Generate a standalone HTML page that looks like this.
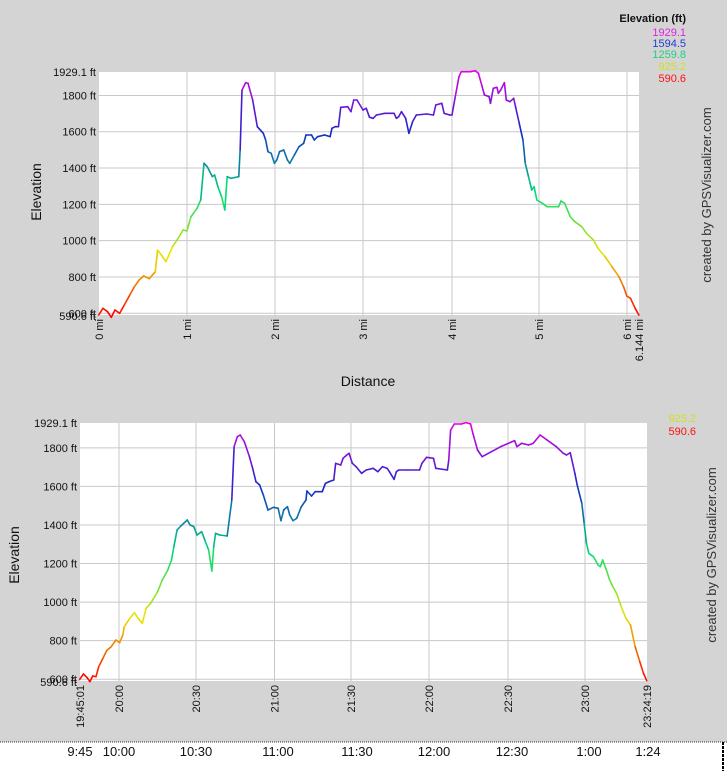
<!DOCTYPE html>
<html><head><meta charset="utf-8"><style>
body{margin:0;background:#d4d4d4;width:727px;height:771px;overflow:hidden;font-family:"Liberation Sans",Arial,sans-serif}
</style></head><body>
<svg id="s" width="727" height="771" xmlns="http://www.w3.org/2000/svg" style="position:absolute;left:0;top:0" font-family="Liberation Sans, Arial, sans-serif">
<rect x="0" y="0" width="727" height="771" fill="#d4d4d4"/>
<rect x="0" y="742" width="727" height="29" fill="#fff"/>
<line x1="0" y1="742" x2="727" y2="742" stroke="#333" stroke-dasharray="1,1"/>
<line x1="723" y1="742" x2="723" y2="771" stroke="#000" stroke-width="2" stroke-dasharray="3,1"/>
<g id="g"></g>
</svg>
<script>
var g=document.getElementById('g'),NS='http://www.w3.org/2000/svg';
function el(t,a,txt){var e=document.createElementNS(NS,t);for(var k in a)e.setAttribute(k,a[k]);if(txt!=null)e.textContent=txt;g.appendChild(e);return e;}
function col(f){ // f 0..1
 var stops=[[255,0,0],[230,230,0],[0,220,120],[20,40,200],[230,0,230]];
 var p=f*4,i=Math.min(3,Math.floor(p)),t=p-i,a=stops[i],b=stops[i+1];
 return 'rgb('+Math.round(a[0]+(b[0]-a[0])*t)+','+Math.round(a[1]+(b[1]-a[1])*t)+','+Math.round(a[2]+(b[2]-a[2])*t)+')';}
function chart(L,R,T,B,xt,pts,yoff){
 el('rect',{x:L,y:T,width:R-L,height:B-T,fill:'#fff'});
 var sc=(B-T)/1338.5;
 [600,800,1000,1200,1400,1600,1800].forEach(function(v){var y=B-(v-590.6)*sc;
  el('line',{x1:L,y1:y,x2:R,y2:y,stroke:'#c8c8c8'});
  el('text',{x:L-3,y:y+4,'font-size':11,'text-anchor':'end',fill:'#111'},v+' ft');});
 el('text',{x:L-3,y:T+4,'font-size':11,'text-anchor':'end',fill:'#111'},'1929.1 ft');
 el('text',{x:L-3,y:B+5,'font-size':11,'text-anchor':'end',fill:'#111'},'590.6 ft');
 xt.forEach(function(a){ if(a[2])el('line',{x1:a[0],y1:T,x2:a[0],y2:B,stroke:'#c8c8c8'});
  el('text',{transform:'translate('+(a[0]+4)+','+(B+4)+') rotate(-90)','font-size':11,'text-anchor':'end',fill:'#111'},a[1]);});
 for(var i=0;i<pts.length-1;i++){
  var x1=pts[i][0]/2.157,y1=yoff+pts[i][1]/3,x2=pts[i+1][0]/2.157,y2=yoff+pts[i+1][1]/3;
  var f=1-((y1+y2)/2-T)/(B-T);f=Math.max(0,Math.min(1,f));
  el('line',{x1:x1,y1:y1,x2:x2,y2:y2,stroke:col(f),'stroke-width':1.6,'stroke-linecap':'round'});}
}
var p1=[[213,945],[222,925],[232,935],[240,952],[248,930],[258,940],[268,915],[280,885],[290,860],[300,840],[310,828],[322,836],[335,815],[340,750],[348,765],[358,785],[372,740],[382,720],[395,690],[403,693],[412,650],[425,625],[433,600],[440,490],[447,500],[458,530],[463,525],[470,560],[478,590],[485,630],[490,530],[498,535],[515,530],[518,450],[522,270],[530,248],[535,250],[545,300],[555,380],[568,400],[573,420],[578,455],[585,460],[592,490],[597,480],[603,455],[612,450],[620,480],[625,490],[635,465],[645,440],[655,430],[660,405],[672,405],[678,420],[685,410],[700,405],[712,410],[716,385],[723,380],[730,380],[735,322],[750,320],[757,335],[763,300],[770,300],[783,330],[790,325],[797,352],[805,355],[812,345],[830,340],[850,340],[855,355],[860,350],[866,335],[875,355],[882,400],[890,365],[898,345],[920,342],[935,345],[940,315],[953,310],[958,340],[970,345],[975,345],[982,290],[990,230],[995,215],[1015,215],[1025,212],[1032,220],[1040,260],[1045,285],[1055,290],[1058,310],[1064,265],[1072,262],[1075,280],[1080,270],[1088,248],[1092,300],[1100,305],[1108,295],[1112,320],[1120,370],[1128,420],[1133,490],[1140,530],[1147,570],[1152,560],[1158,600],[1170,610],[1180,620],[1205,620],[1210,603],[1218,610],[1230,650],[1240,665],[1255,680],[1265,700],[1280,720],[1290,745],[1305,770],[1320,800],[1335,830],[1345,860],[1352,888],[1360,895],[1370,925],[1378,945]];
var p2=[[172,838],[180,822],[188,833],[194,845],[200,828],[207,830],[213,800],[222,775],[230,752],[240,740],[250,720],[258,728],[265,705],[268,680],[280,655],[290,638],[298,655],[307,670],[315,625],[325,610],[340,575],[350,540],[362,510],[370,480],[375,440],[382,390],[390,378],[404,360],[410,375],[418,380],[425,405],[435,395],[443,425],[450,450],[457,513],[461,440],[465,400],[474,405],[490,408],[500,300],[505,140],[512,110],[518,105],[527,125],[538,170],[545,205],[552,245],[560,255],[568,285],[578,330],[590,322],[600,325],[606,362],[612,330],[620,320],[625,345],[632,362],[640,355],[650,320],[660,300],[662,273],[672,288],[680,275],[695,275],[702,250],[710,245],[720,240],[724,190],[735,195],[740,175],[748,165],[753,160],[760,190],[768,200],[780,220],[790,210],[805,205],[815,215],[825,200],[835,205],[840,215],[850,238],[855,215],[860,210],[880,210],[905,210],[910,190],[920,172],[935,175],[940,205],[965,210],[968,180],[972,90],[980,72],[995,72],[1005,68],[1015,72],[1020,100],[1030,150],[1040,170],[1060,155],[1080,140],[1110,122],[1115,140],[1125,130],[1140,135],[1150,130],[1165,105],[1180,120],[1200,140],[1215,160],[1222,165],[1230,158],[1240,220],[1245,255],[1255,310],[1260,370],[1265,430],[1270,460],[1280,470],[1290,495],[1295,500],[1300,480],[1308,510],[1315,540],[1322,560],[1330,580],[1340,620],[1350,655],[1360,675],[1370,740],[1380,785],[1388,820],[1395,842]];
chart(99,639,72,315,[[99,'0 mi',0],[187,'1 mi',1],[275,'2 mi',1],[363,'3 mi',1],[452,'4 mi',1],[539,'5 mi',1],[627,'6 mi',1],[639,'6.144 mi',0]],p1,0);
chart(80,647,423,681,[[80,'19:45:01',0],[119,'20:00',1],[196,'20:30',1],[274.5,'21:00',1],[351,'21:30',1],[429,'22:00',1],[508,'22:30',1],[585,'23:00',1],[647,'23:24:19',0]],p2,400);
el('text',{x:686,y:22,'font-size':11,'font-weight':'bold','text-anchor':'end',fill:'#111'},'Elevation (ft)');
[['1929.1','#e020e0',36],['1594.5','#2040d0',47],['1259.8','#20d080',58],['925.2','#d0e020',70],['590.6','#ff1010',82]].forEach(function(a){el('text',{x:686,y:a[2],'font-size':11,'text-anchor':'end',fill:a[1]},a[0]);});
el('text',{x:696,y:422,'font-size':11,'text-anchor':'end',fill:'#d0e020'},'925.2');
el('text',{x:696,y:435,'font-size':11,'text-anchor':'end',fill:'#ff1010'},'590.6');
el('text',{transform:'translate(711,195) rotate(-90)','font-size':13,'text-anchor':'middle',fill:'#333'},'created by GPSVisualizer.com');
el('text',{transform:'translate(716,555) rotate(-90)','font-size':13,'text-anchor':'middle',fill:'#333'},'created by GPSVisualizer.com');
el('text',{transform:'translate(41,192) rotate(-90)','font-size':14,'text-anchor':'middle',fill:'#111'},'Elevation');
el('text',{transform:'translate(19,555) rotate(-90)','font-size':14,'text-anchor':'middle',fill:'#111'},'Elevation');
el('text',{x:368,y:386,'font-size':14,'text-anchor':'middle',fill:'#111'},'Distance');
[[80,'9:45'],[119,'10:00'],[196,'10:30'],[278,'11:00'],[357,'11:30'],[434,'12:00'],[512,'12:30'],[589,'1:00'],[648,'1:24']].forEach(function(a){el('text',{x:a[0],y:756,'font-size':13,'text-anchor':'middle',fill:'#111'},a[1]);});
</script>
</body></html>
